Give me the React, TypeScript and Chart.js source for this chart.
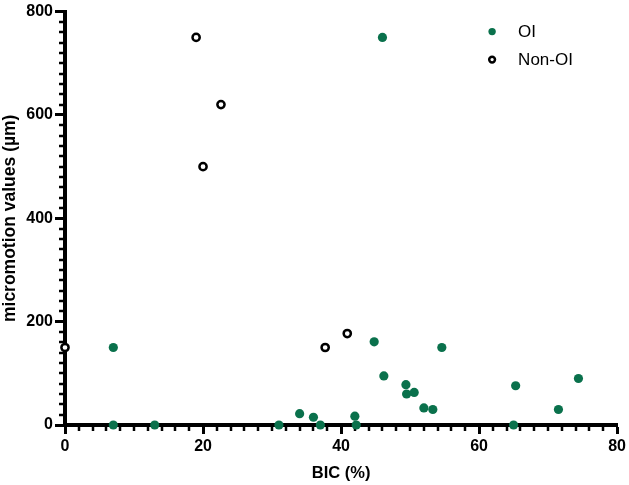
import { useEffect, useRef } from "react";
import { Chart, registerables } from "chart.js";
Chart.register(...registerables);

const oiBIC = [46, 7, 7, 13, 31, 34, 36, 37, 42, 42.2, 44.8, 46.2, 49.4, 49.5, 50.6, 52, 53.3, 54.6, 65, 65.3, 71.5, 74.4];
const oiMicromotion = [750, 150, 0, 0, 0, 22, 15, 0, 17, 0, 161, 95, 78, 60, 63, 33, 30, 150, 0, 76, 30, 90];
const nonOiBIC = [0, 19, 20, 22.6, 37.7, 40.9];
const nonOiMicromotion = [150, 750, 500, 620, 150, 177];
const seriesNames = ["OI", "Non-OI"];
const xRange = [0, 80];
const yRange = [0, 800];
const xMajorStep = 20;
const yMajorStep = 200;
const xMinorStep = 2;
const yMinorStep = 20;

const GREEN = "#0a714c";
const FONT = "'Liberation Sans', Arial, sans-serif";

const minorTicks = {
  id: "minorTicks",
  beforeDatasetsDraw(chart: any) {
    const ctx = chart.ctx;
    const xs = chart.scales.x;
    const ys = chart.scales.y;
    const area = chart.chartArea;
    ctx.save();
    ctx.strokeStyle = "#000";
    ctx.lineWidth = 2.5;
    for (let v = xRange[0]; v <= xRange[1] + 1e-9; v += xMinorStep) {
      if (Math.abs(v % xMajorStep) < 1e-9) continue;
      const px = Math.round(xs.getPixelForValue(v));
      ctx.beginPath();
      ctx.moveTo(px, area.bottom);
      ctx.lineTo(px, area.bottom + 6);
      ctx.stroke();
    }
    for (let v = yRange[0]; v <= yRange[1] + 1e-9; v += yMinorStep) {
      if (Math.abs(v % yMajorStep) < 1e-9) continue;
      const py = Math.round(ys.getPixelForValue(v));
      ctx.beginPath();
      ctx.moveTo(area.left, py);
      ctx.lineTo(area.left - 6, py);
      ctx.stroke();
    }
    ctx.restore();
  },
};

const legendPlugin = {
  id: "customLegend",
  afterDraw(chart: any) {
    const ctx = chart.ctx;
    const area = chart.chartArea;
    const x0 = area.right - 125;
    const y0 = area.top + 20;
    const gap = 28;
    ctx.save();
    ctx.font = `17px ${FONT}`;
    ctx.textBaseline = "middle";
    chart.data.datasets.forEach((ds: any, i: number) => {
      const y = y0 + i * gap;
      ctx.beginPath();
      ctx.arc(x0, y, ds.borderWidth ? 2.9 : 3.7, 0, Math.PI * 2);
      ctx.fillStyle = ds.backgroundColor;
      ctx.fill();
      if (ds.borderWidth) {
        ctx.lineWidth = ds.borderWidth;
        ctx.strokeStyle = ds.borderColor;
        ctx.stroke();
      }
      ctx.fillStyle = "#000";
      ctx.fillText(ds.label, x0 + 26, y + 1);
    });
    ctx.restore();
  },
};

export default function App() {
  const ref = useRef<HTMLCanvasElement | null>(null);
  useEffect(() => {
    document.body.style.margin = "0";
    const chart = new Chart(ref.current!, {
      type: "scatter",
      data: {
        datasets: [
          {
            label: seriesNames[0],
            data: oiBIC.map((x, i) => ({ x, y: oiMicromotion[i] })),
            backgroundColor: GREEN,
            borderColor: GREEN,
            borderWidth: 0,
            pointRadius: 4.6,
            clip: false as any,
          },
          {
            label: seriesNames[1],
            data: nonOiBIC.map((x, i) => ({ x, y: nonOiMicromotion[i] })),
            backgroundColor: "#ffffff",
            borderColor: "#000",
            borderWidth: 2.5,
            pointRadius: 3.6,
            clip: false as any,
          },
        ],
      },
      plugins: [minorTicks, legendPlugin],
      options: {
        animation: false,
        responsive: false,
        layout: { padding: { top: 9, right: 9, left: 0, bottom: 0 } },
        plugins: { legend: { display: false }, tooltip: { enabled: false } },
        scales: {
          x: {
            type: "linear",
            min: xRange[0],
            max: xRange[1],
            ticks: {
              stepSize: xMajorStep,
              color: "#000",
              padding: 3,
              font: { family: FONT, size: 16, weight: "bold" },
            },
            grid: { drawOnChartArea: false, drawTicks: true, tickLength: 9, tickWidth: 3, tickColor: "#000" },
            border: { display: true, color: "#000", width: 4 },
            title: {
              display: true,
              text: "BIC (%)",
              color: "#000",
              font: { family: FONT, size: 16.5, weight: "bold" },
              padding: { top: 0, bottom: 2 },
            },
            afterFit: (s: any) => { s.height = 60; },
          },
          y: {
            type: "linear",
            min: yRange[0],
            max: yRange[1],
            ticks: {
              stepSize: yMajorStep,
              color: "#000",
              padding: 2,
              font: { family: FONT, size: 16, weight: "bold" },
            },
            grid: { drawOnChartArea: false, drawTicks: true, tickLength: 10, tickWidth: 3, tickColor: "#000" },
            border: { display: true, color: "#000", width: 4 },
            title: {
              display: true,
              text: "micromotion values (µm)",
              color: "#000",
              font: { family: FONT, size: 17.5, weight: "bold" },
              padding: { top: 0, bottom: 0 },
            },
            afterFit: (s: any) => { s.width = 65; },
          },
        },
      },
    });
    return () => chart.destroy();
  }, []);
  return (
    <div style={{ position: "fixed", left: 0, top: 0, width: 629, height: 485 }}>
      <canvas ref={ref} width={629} height={485} style={{ width: 629, height: 485 }} />
    </div>
  );
}
